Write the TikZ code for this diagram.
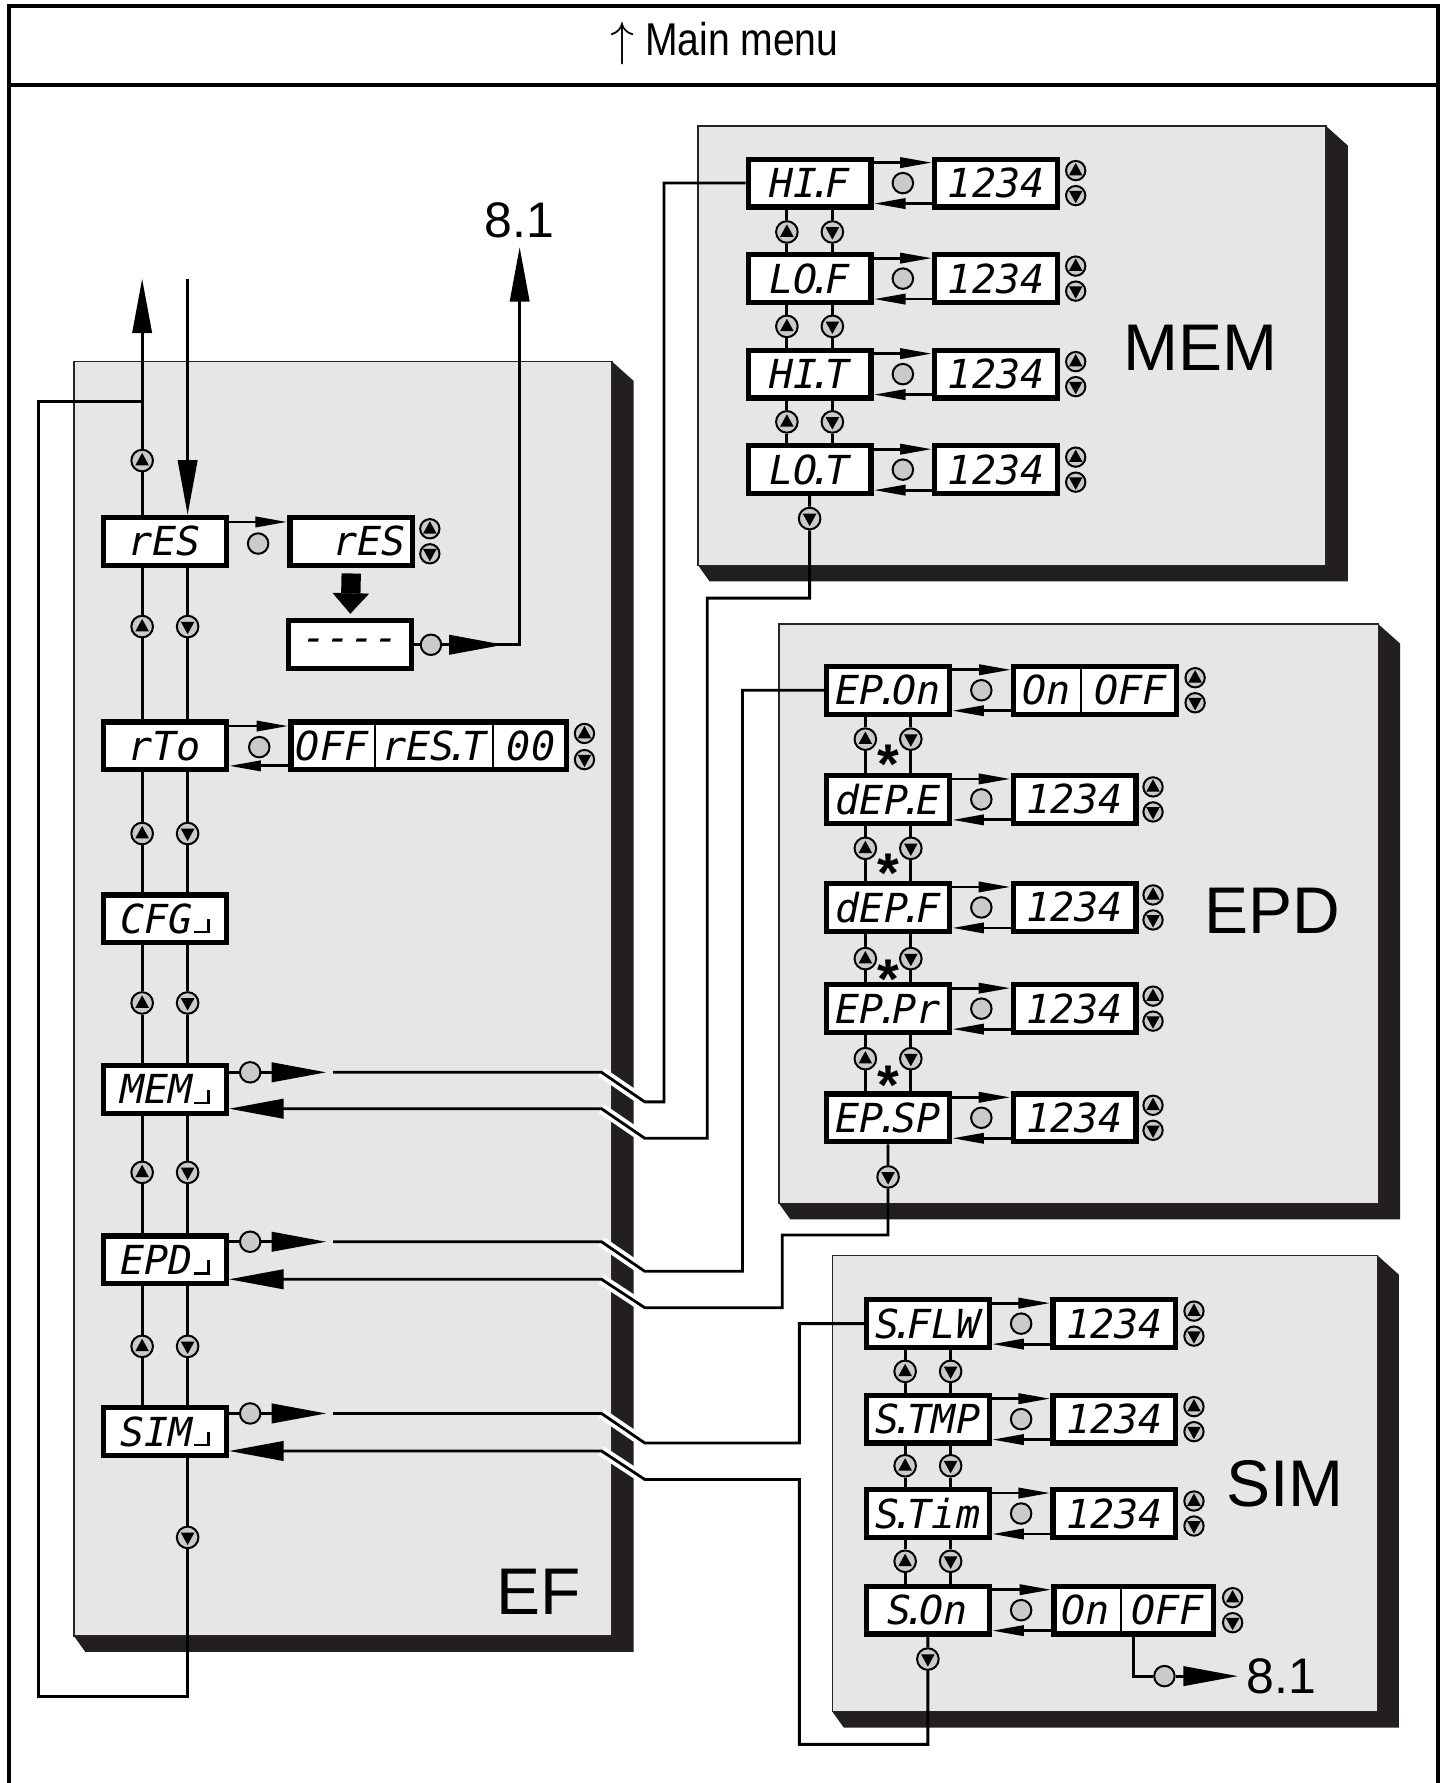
\documentclass[tikz,border=0pt]{standalone}
\usepackage{fontspec}
\setmainfont{Liberation Sans}
\newfontfamily\segfont{DejaVu Sans Mono}
\newfontfamily\narrowfont[FakeStretch=0.85]{Liberation Sans}
\usetikzlibrary{arrows.meta,backgrounds}

\definecolor{panelgray}{RGB}{229,230,232}
\definecolor{btngray}{RGB}{201,202,204}
\definecolor{shadowblk}{RGB}{35,31,32}

\newcommand\segtext{\segfont\itshape\fontsize{10}{10}\selectfont}
\newcommand\sd{\kern-0.2em.\kern-0.2em}
\newcommand\subm{\kern0.5pt\rule{3.2pt}{0.6pt}\rule{0.6pt}{3.6pt}}

\begin{document}
\begin{tikzpicture}[
    x=0.01cm, y=-0.01cm,
    >={Triangle[length=0.28cm,width=0.09cm]},
    frame/.style={line width=1pt},
    panel/.style={draw=black!85, line width=0.4pt, fill=panelgray, anchor=north west,
                  inner sep=0pt, outer sep=0pt},
    shade/.style={fill=shadowblk},
    disp/.style={draw, line width=1.3pt, fill=white, minimum width=1.08cm,
                 minimum height=0.42cm, inner sep=0pt, font=\segtext},
    celltxt/.style={inner sep=0pt, font=\segtext},
    divider/.style={line width=0.5pt},
    btn/.style={circle, draw, line width=0.5pt, fill=btngray, minimum size=0.19cm, inner sep=0pt},
    setbtn/.style={btn, minimum size=0.18cm},
    upbtn/.style={btn, path picture={\fill[black] ([yshift=1.9pt]path picture bounding box.center)
                  -- ++(-1.7pt,-3.1pt) -- ++(3.4pt,0pt) -- cycle;}},
    dnbtn/.style={btn, path picture={\fill[black] ([yshift=-1.9pt]path picture bounding box.center)
                  -- ++(-1.7pt,3.1pt) -- ++(3.4pt,0pt) -- cycle;}},
    smup/.style={upbtn, minimum size=0.17cm},
    smdn/.style={dnbtn, minimum size=0.17cm},
    wire/.style={line width=0.7pt},
    fwd/.style={wire, ->},
    big/.style={wire, -{Triangle[length=0.48cm,width=0.17cm]}},
    bold/.style={line width=0.17cm, -{Triangle[length=0.18cm,width=0.32cm,line width=0.1pt]},
                 shorten <=0.05cm, shorten >=0.04cm},
    halo/.style={white, line width=2.6pt},
    biglabel/.style={font=\fontsize{16.5}{18}\selectfont, inner sep=0pt},
    reflabel/.style={font=\fontsize{12.5}{14}\selectfont, inner sep=2pt},
    title/.style={font=\narrowfont\fontsize{11.5}{13}\selectfont},
    astk/.style={font=\bfseries\fontsize{14}{14}\selectfont, inner sep=0pt}
  ]
  \useasboundingbox (0,0) rectangle (1274,1568);

  % ---------- frame ----------------------------------------------------------
  \draw[frame] (8,1568) -- (8,5) -- (1265,5) -- (1265,1568);
  \draw[frame] (8,75) -- (1265,75);
  \node[title] (title) at (637,38) {$\uparrow$ Main menu};

  % ---------- panels ---------------------------------------------------------
  \node[panel, minimum width=4.73cm, minimum height=11.2cm] (ef)  at (65,318)  {};
  \node[panel, minimum width=5.52cm, minimum height=3.86cm] (mem) at (614,111) {};
  \node[panel, minimum width=5.27cm, minimum height=5.09cm] (epd) at (685,549) {};
  \node[panel, minimum width=4.79cm, minimum height=4.01cm] (sim) at (732,1104) {};
  \begin{pgfonlayer}{background}
    \foreach \p in {ef,mem,epd,sim}{
      \fill[shade] (\p.north east) -- ++(19,17) -- ([shift={(19,14)}]\p.south east)
        -- ([shift={(10,14)}]\p.south west) -- (\p.south west) -- (\p.south east) -- cycle;
    }
  \end{pgfonlayer}

  \node[biglabel] (ef-lbl)  at (474,1400) {EF};
  \node[biglabel] (mem-lbl) at (1056,306) {MEM};
  \node[biglabel] (epd-lbl) at (1119,801) {EPD};
  \node[biglabel] (sim-lbl) at (1130,1305) {SIM};

  % ---------- MEM ------------------------------------------------------------
  \foreach \n/\y/\txt in {hif/161/{HI\sd F}, lof/245/{LO\sd F}, hit/329/{HI\sd T}, lot/413/{LO\sd T}}{
    \node[disp] (mem-\n) at (712,\y) {\txt};
    \node[disp] (mem-\n-v) at (876,\y) {1234};
    \node[setbtn] (mem-\n-c) at (794,\y) {};
    \draw[fwd] ([yshift=1.8mm]mem-\n.east) -- ([yshift=1.8mm]mem-\n-v.west);
    \draw[fwd] ([yshift=-1.8mm]mem-\n-v.west) -- ([yshift=-1.8mm]mem-\n.east);
    \node[smup] (mem-\n-vu) at (946,\y-11) {};
    \node[smdn] (mem-\n-vd) at (946,\y+11) {};
  }
  \foreach \na/\nb/\y/\k in {hif/lof/204/1, lof/hit/287/2, hit/lot/371/3}{
    \node[upbtn] (mem-u\k) at (692,\y) {};
    \node[dnbtn] (mem-d\k) at (732,\y) {};
    \draw[wire] (mem-\na.south -| mem-u\k) -- (mem-u\k) -- (mem-\nb.north -| mem-u\k);
    \draw[wire] (mem-\na.south -| mem-d\k) -- (mem-d\k) -- (mem-\nb.north -| mem-d\k);
  }
  \node[dnbtn] (mem-out) at (712,456) {};

  % ---------- EPD ------------------------------------------------------------
  \node[disp] (epd-on) at (781,607) {EP\sd On};
  \node[disp, minimum width=1.43cm] (epd-on-v) at (963,607) {};
  \draw[divider] ([xshift=6.1mm]epd-on-v.north west) -- ([xshift=6.1mm]epd-on-v.south west);
  \node[celltxt] (epd-on-t1) at (920,607) {On};
  \node[celltxt] (epd-on-t2) at (994,607) {OFF};
  \node[setbtn] (epd-on-c) at (863,607) {};
  \draw[fwd] ([yshift=1.8mm]epd-on.east) -- ([yshift=1.8mm]epd-on-v.west);
  \draw[fwd] ([yshift=-1.8mm]epd-on-v.west) -- ([yshift=-1.8mm]epd-on.east);
  \node[smup] (epd-on-vu) at (1051,596) {};
  \node[smdn] (epd-on-vd) at (1051,618) {};
  \foreach \n/\y/\txt in {dee/703/{dEP\sd E}, def/798/{dEP\sd F}, epr/887/{EP\sd Pr}, esp/983/{EP\sd SP}}{
    \node[disp] (epd-\n) at (781,\y) {\txt};
    \node[disp] (epd-\n-v) at (945,\y) {1234};
    \node[setbtn] (epd-\n-c) at (863,\y) {};
    \draw[fwd] ([yshift=1.8mm]epd-\n.east) -- ([yshift=1.8mm]epd-\n-v.west);
    \draw[fwd] ([yshift=-1.8mm]epd-\n-v.west) -- ([yshift=-1.8mm]epd-\n.east);
    \node[smup] (epd-\n-vu) at (1014,\y-11) {};
    \node[smdn] (epd-\n-vd) at (1014,\y+11) {};
  }
  \foreach \na/\nb/\y/\s/\k in {on/dee/650/672/1, dee/def/746/768/2, def/epr/843/861/3, epr/esp/931/954/4}{
    \node[upbtn] (epd-u\k) at (761,\y) {};
    \node[dnbtn] (epd-d\k) at (801,\y) {};
    \draw[wire] (epd-\na.south -| epd-u\k) -- (epd-u\k) -- (epd-\nb.north -| epd-u\k);
    \draw[wire] (epd-\na.south -| epd-d\k) -- (epd-d\k) -- (epd-\nb.north -| epd-d\k);
    \node[astk] (epd-s\k) at (781,\s) {*};
  }
  \node[dnbtn] (epd-out) at (781,1035) {};

  % ---------- SIM ------------------------------------------------------------
  \foreach \n/\y/\txt in {flw/1164/{S\sd FLW}, tmp/1248/{S\sd TMP}, tim/1331/{S\sd Tim}}{
    \node[disp] (sim-\n) at (816,\y) {\txt};
    \node[disp] (sim-\n-v) at (980,\y) {1234};
    \node[setbtn] (sim-\n-c) at (898,\y) {};
    \draw[fwd] ([yshift=1.8mm]sim-\n.east) -- ([yshift=1.8mm]sim-\n-v.west);
    \draw[fwd] ([yshift=-1.8mm]sim-\n-v.west) -- ([yshift=-1.8mm]sim-\n.east);
    \node[smup] (sim-\n-vu) at (1050,\y-11) {};
    \node[smdn] (sim-\n-vd) at (1050,\y+11) {};
  }
  \node[disp] (sim-on) at (816,1416) {S\sd On};
  \node[disp, minimum width=1.40cm] (sim-on-v) at (997,1416) {};
  \draw[divider] ([xshift=6.1mm]sim-on-v.north west) -- ([xshift=6.1mm]sim-on-v.south west);
  \node[celltxt] (sim-on-t1) at (955,1416) {On};
  \node[celltxt] (sim-on-t2) at (1027,1416) {OFF};
  \node[setbtn] (sim-on-c) at (898,1416) {};
  \draw[fwd] ([yshift=1.8mm]sim-on.east) -- ([yshift=1.8mm]sim-on-v.west);
  \draw[fwd] ([yshift=-1.8mm]sim-on-v.west) -- ([yshift=-1.8mm]sim-on.east);
  \node[smup] (sim-on-vu) at (1084,1405) {};
  \node[smdn] (sim-on-vd) at (1084,1427) {};
  \foreach \na/\nb/\y/\k in {flw/tmp/1206/1, tmp/tim/1289/2, tim/on/1373/3}{
    \node[upbtn] (sim-u\k) at (796,\y) {};
    \node[dnbtn] (sim-d\k) at (836,\y) {};
    \draw[wire] (sim-\na.south -| sim-u\k) -- (sim-u\k) -- (sim-\nb.north -| sim-u\k);
    \draw[wire] (sim-\na.south -| sim-d\k) -- (sim-d\k) -- (sim-\nb.north -| sim-d\k);
  }
  \node[dnbtn] (sim-out) at (816,1459) {};
  \node[setbtn] (sim-go-c) at (1024,1474) {};
  \node[reflabel] (ref-bot) at (1127,1474) {8.1};
  \draw[wire] (sim-on-v.south) |- (sim-go-c);
  \draw[big] (sim-go-c) -- (ref-bot.west);

  % ---------- EF -------------------------------------------------------------
  \node[disp] (ef-res) at (145,476)  {rES};
  \node[disp] (ef-rto) at (145,656)  {rTo};
  \node[disp] (ef-cfg) at (145,808)  {CFG\subm};
  \node[disp] (ef-mem) at (145,958)  {MEM\subm};
  \node[disp] (ef-epd) at (145,1108) {EPD\subm};
  \node[disp] (ef-sim) at (145,1259) {SIM\subm};

  \node[upbtn] (ef-u0) at (125,405) {};
  \foreach \k/\y in {1/551, 2/733, 3/882, 4/1031, 5/1184}{
    \node[upbtn] (ef-u\k) at (125,\y) {};
    \node[dnbtn] (ef-d\k) at (165,\y) {};
  }
  \node[dnbtn] (ef-d6) at (165,1352) {};
  \foreach \na/\nb/\k in {res/rto/1, rto/cfg/2, cfg/mem/3, mem/epd/4, epd/sim/5}{
    \draw[wire] (ef-\na.south -| ef-u\k) -- (ef-u\k) -- (ef-\nb.north -| ef-u\k);
    \draw[wire] (ef-\na.south -| ef-d\k) -- (ef-d\k) -- (ef-\nb.north -| ef-d\k);
  }

  % in from / out to the main menu, and the loop back from the last entry
  \coordinate (ef-out) at (125,245);
  \coordinate (ef-in)  at (165,245);
  \coordinate (loop-b) at (34,1492);
  \coordinate (loop-t) at (34,353);
  \draw[big] (ef-res.north -| ef-u0) -- (ef-u0) -- (ef-out);
  \draw[big] (ef-in) -- (ef-res.north -| ef-in);
  \draw[wire] (ef-sim.south -| ef-d6) -- (ef-d6) |- (loop-b) |- (ef-u0 |- loop-t);

  % reset
  \node[disp, text width=0.96cm, align=right] (ef-res-v) at (309,476) {rES};
  \node[setbtn] (ef-res-c) at (227,478) {};
  \draw[fwd] ([yshift=1.7mm]ef-res.east) -- ([yshift=1.7mm]ef-res-v.west);
  \node[smup] (ef-res-vu) at (378,465) {};
  \node[smdn] (ef-res-vd) at (378,487) {};
  \node[disp] (ef-dash) at (308,567) {-\kern0pt-\kern0pt-\kern0pt-};
  \draw[bold] (ef-res-v.south) -- (ef-dash.north);
  \node[setbtn] (ef-dash-c) at (379,567) {};
  \node[reflabel] (ref-top) at (457,194) {8.1};
  \coordinate (ef-dash-tip) at (443,567);
  \draw[wire] (ef-dash) -- (ef-dash-c);
  \draw[big] (ef-dash-c) -| (ref-top.south);
  \draw[big] (ef-dash-c) -- (ef-dash-tip);

  % response time
  \node[disp, minimum width=2.42cm] (ef-rto-v) at (377,656) {};
  \draw[divider] ([xshift=7.6mm]ef-rto-v.north west) -- ([xshift=7.6mm]ef-rto-v.south west);
  \draw[divider] ([xshift=18mm]ef-rto-v.north west) -- ([xshift=18mm]ef-rto-v.south west);
  \node[celltxt] (ef-rto-t1) at (292,656) {OFF};
  \node[celltxt] (ef-rto-t2) at (382,656) {rES\sd T};
  \node[celltxt] (ef-rto-t3) at (467,656) {00};
  \node[setbtn] (ef-rto-c) at (228,657) {};
  \draw[fwd] ([yshift=1.75mm]ef-rto.east) -- ([yshift=1.75mm]ef-rto-v.west);
  \draw[fwd] ([yshift=-1.75mm]ef-rto-v.west) -- ([yshift=-1.75mm]ef-rto.east);
  \node[smup] (ef-rto-vu) at (514,645) {};
  \node[smdn] (ef-rto-vd) at (514,668) {};

  % ---------- sub-menu links -------------------------------------------------
  % Each link leaves EF with an arrow, crosses the shadow on a short diagonal
  % (white halo underneath) and comes back from the last entry of the sub-menu.
  \node[setbtn] (ef-mem-c) at (220,943) {};
  \node[setbtn] (ef-epd-c) at (220,1092) {};
  \node[setbtn] (ef-sim-c) at (220,1243) {};

  \coordinate (mem-tip) at (287,943);  \coordinate (mem-go) at (293,943);
  \coordinate (mem-k1) at (529,943);   \coordinate (mem-k2) at (567,969);
  \coordinate (mem-k3) at (529,975);   \coordinate (mem-k4) at (567,1001);
  \coordinate (mem-r1) at (622,526);

  \coordinate (epd-tip) at (287,1092); \coordinate (epd-go) at (293,1092);
  \coordinate (epd-k1) at (529,1092);  \coordinate (epd-k2) at (567,1118);
  \coordinate (epd-k3) at (529,1125);  \coordinate (epd-k4) at (567,1150);
  \coordinate (epd-r0) at (653,1118);  \coordinate (epd-r1) at (688,1086);

  \coordinate (sim-tip) at (287,1243); \coordinate (sim-go) at (293,1243);
  \coordinate (sim-k1) at (529,1243);  \coordinate (sim-k2) at (567,1269);
  \coordinate (sim-k3) at (529,1276);  \coordinate (sim-k4) at (567,1301);
  \coordinate (sim-r0) at (703,1269);  \coordinate (sim-r1) at (703,1534);

  \foreach \m in {mem,epd,sim}{
    \draw[halo] (\m-k1) -- (\m-k2);
    \draw[halo] (\m-k3) -- (\m-k4);
    \draw[wire] (ef-\m.east |- ef-\m-c) -- (ef-\m-c);
    \draw[big] (ef-\m-c) -- (\m-tip);
  }

  \draw[wire] (mem-go) -- (mem-k1) -- (mem-k2) -- ++(17,0) |- (mem-hif.west);
  \draw[big] (mem-lot.south) -- (mem-out) |- (mem-r1) |- (mem-k4) -- (mem-k3) -- (ef-mem.east |- mem-k3);

  \draw[wire] (epd-go) -- (epd-k1) -- (epd-k2) -- (epd-r0) |- (epd-on.west);
  \draw[big] (epd-esp.south) -- (epd-out) |- (epd-r1) |- (epd-k4) -- (epd-k3) -- (ef-epd.east |- epd-k3);

  \draw[wire] (sim-go) -- (sim-k1) -- (sim-k2) -- (sim-r0) |- (sim-flw.west);
  \draw[big] (sim-on.south) -- (sim-out) |- (sim-r1) |- (sim-k4) -- (sim-k3) -- (ef-sim.east |- sim-k3);

\end{tikzpicture}
\end{document}
